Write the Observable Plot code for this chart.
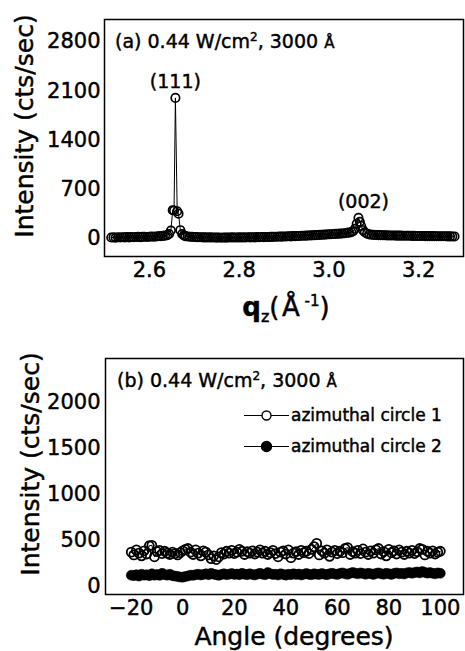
<!DOCTYPE html>
<html>
<head>
<meta charset="utf-8">
<script src="https://cdn.jsdelivr.net/npm/d3@7"></script>
<script src="https://cdn.jsdelivr.net/npm/@observablehq/plot@0.6"></script>
<style>
  html, body { margin: 0; padding: 0; background: #fff; }
  #fig { width: 465px; height: 651px; position: relative; }
  #fig svg { display: block; }
  #fig svg text { stroke: black; stroke-width: 0.45px; }
  .ov { position: absolute; font-family: "DejaVu Sans"; color: black; white-space: nowrap; -webkit-text-stroke: 0.45px black; }
  .ytitle { font-size: 25px; line-height: 25px; transform: translate(-50%, -50%) rotate(-90deg); }
  .xtitle { transform: translateX(-50%); }
  .note { font-size: 19px; line-height: 19px; }
  .shift { position: relative; }
  .frame { position: absolute; box-sizing: border-box; border: 1.5px solid black; pointer-events: none; }
  .tick { position: absolute; background: black; pointer-events: none; }
</style>
</head>
<body>
<div id="fig">
  <div class="ov ytitle" style="left:24px; top:126px;">Intensity (cts/sec)</div>
  <div class="ov xtitle" style="left:286px; top:294px; font-size:26px; line-height:26px;"><b>q</b><span class="shift" style="font-size:16px; top:6px;">z</span>(&#8202;Å<span class="shift" style="font-size:15px; top:-10px;"> -1</span>)</div>
  <div class="ov note" style="left:115px; top:32px;">(a) 0.44 W/cm<span class="shift" style="font-size:12px; top:-7px;">2</span>, 3000 <span style="font-size:15px;">Å</span></div>
  <div class="ov ytitle" style="left:30px; top:463.5px;">Intensity (cts/sec)</div>
  <div class="ov xtitle" style="left:294px; top:624px; font-size:25px; line-height:25px;">Angle (degrees)</div>
  <div class="ov note" style="left:117px; top:371px;">(b) 0.44 W/cm<span class="shift" style="font-size:12px; top:-7px;">2</span>, 3000 <span style="font-size:15px;">Å</span></div>
</div>
<script>
// ---- (a) q_z scan through the (111) and (002) reflections ----
const qz = [
  2.515, 2.520, 2.525, 2.530, 2.535, 2.540, 2.545, 2.550, 2.555, 2.560,
  2.565, 2.570, 2.575, 2.580, 2.585, 2.590, 2.595, 2.600, 2.605, 2.610,
  2.615, 2.620, 2.625, 2.630, 2.635, 2.640,
  2.644, 2.648, 2.652, 2.655, 2.658, 2.662, 2.665, 2.669, 2.673, 2.677,
  2.680, 2.685, 2.690, 2.695, 2.700, 2.705, 2.710, 2.715, 2.720, 2.725,
  2.730, 2.735, 2.740, 2.745, 2.750, 2.755, 2.760, 2.765, 2.770, 2.775,
  2.780, 2.785, 2.790, 2.795, 2.800, 2.805, 2.810, 2.815, 2.820, 2.825,
  2.830, 2.835, 2.840, 2.845, 2.850, 2.855, 2.860, 2.865, 2.870, 2.875,
  2.880, 2.885, 2.890, 2.895, 2.900, 2.905, 2.910, 2.915, 2.920, 2.925,
  2.930, 2.935, 2.940, 2.945, 2.950, 2.955, 2.960, 2.965, 2.970, 2.975,
  2.980, 2.985, 2.990, 2.995, 3.000, 3.005, 3.010, 3.015, 3.020, 3.025,
  3.030, 3.035, 3.040,
  3.045, 3.050, 3.054, 3.058, 3.062, 3.066, 3.069, 3.072, 3.076, 3.080,
  3.085, 3.090,
  3.095, 3.100, 3.105, 3.110, 3.115, 3.120, 3.125, 3.130, 3.135, 3.140,
  3.145, 3.150, 3.155, 3.160, 3.165, 3.170, 3.175, 3.180, 3.185, 3.190,
  3.195, 3.200, 3.205, 3.210, 3.215, 3.220, 3.225, 3.230, 3.235, 3.240,
  3.245, 3.250, 3.255, 3.260, 3.265, 3.270, 3.275, 3.280
];
const countsA = [
  10, 12, 8, 14, 11, 15, 13, 16, 12, 18,
  15, 17, 20, 16, 19, 22, 18, 21, 24, 22,
  26, 28, 30, 34, 38, 45,
  60, 110, 400, 395, 2000, 385, 350, 115, 60, 40,
  30, 25, 22, 20, 18, 16, 15, 14, 12, 13,
  11, 12, 10, 11, 9, 10, 8, 10, 9, 11,
  10, 12, 10, 11, 12, 10, 13, 11, 14, 12,
  15, 13, 16, 14, 17, 16, 18, 17, 20, 19,
  22, 21, 24, 23, 26, 25, 28, 27, 30, 30,
  32, 33, 35, 36, 38, 39, 41, 42, 44, 46,
  48, 50, 52, 54, 56, 58, 60, 62, 64, 66,
  68, 72, 76,
  80, 88, 100, 135, 205, 290, 235, 175, 115, 85,
  65, 55,
  50, 48, 47, 45, 44, 43, 42, 41, 40, 40,
  39, 38, 38, 37, 36, 36, 35, 35, 34, 34,
  33, 33, 32, 32, 31, 31, 30, 30, 30, 29,
  29, 28, 28, 28, 27, 27, 26, 26
];
const peakNames = ["(111)", "(002)"];
const peakQ = [2.658, 3.066];
const peakCounts = [2000, 290];
const peakDx = [0, 5];

const xTicksA = [2.6, 2.8, 3.0, 3.2];
const xMinorA = [2.7, 2.9, 3.1];
const yTicksA = [0, 700, 1400, 2100, 2800];
const yMinorA = [350, 1050, 1750, 2450];

// ---- (b) azimuthal scans ----
const angles = [
  -20, -19, -18, -17, -16, -15, -14, -13, -12, -11,
  -10, -9, -8, -7, -6, -5, -4, -3, -2, -1,
  0, 1, 2, 3, 4, 5, 6, 7, 8, 9,
  10, 11, 12, 13, 14, 15, 16, 17, 18, 19,
  20, 21, 22, 23, 24, 25, 26, 27, 28, 29,
  30, 31, 32, 33, 34, 35, 36, 37, 38, 39,
  40, 41, 42, 43, 44, 45, 46, 47, 48, 49,
  50, 51, 52, 53, 54, 55, 56, 57, 58, 59,
  60, 61, 62, 63, 64, 65, 66, 67, 68, 69,
  70, 71, 72, 73, 74, 75, 76, 77, 78, 79,
  80, 81, 82, 83, 84, 85, 86, 87, 88, 89,
  90, 91, 92, 93, 94, 95, 96, 97, 98, 99,
  100
];
const circle1 = [
  370, 340, 395, 360, 330, 385, 350, 440, 445, 320,
  375, 390, 355, 380, 360, 345, 370, 355, 340, 365,
  385, 400, 410, 370, 345, 395, 360, 330, 385, 370,
  340, 300, 330, 290, 320, 365, 350, 380, 360, 390,
  355, 370, 400, 380, 345, 375, 360, 385, 350, 370,
  395, 360, 380, 345, 365, 390, 355, 320, 370, 385,
  350, 395, 310, 360, 375, 345, 390, 365, 380, 355,
  400, 430, 465, 340, 385, 360, 395, 325, 370, 390,
  355, 380, 365, 410, 420, 345, 375, 360, 390, 355,
  405, 370, 345, 385, 360, 395, 410, 350, 375, 330,
  400, 365, 385, 350, 395, 370, 345, 380, 360, 390,
  355, 375, 410, 400, 340, 380, 360, 385, 350, 370,
  380
];
const circle2 = [
  120, 115, 125, 110, 130, 120, 125, 115, 135, 120,
  128, 118, 140, 125, 120, 130, 115, 110, 105, 100,
  98, 105, 112, 120, 118, 125, 130, 122, 128, 135,
  125, 140, 130, 125, 118, 128, 135, 125, 130, 138,
  128, 132, 125, 140, 130, 125, 135, 128, 122, 132,
  140, 130, 125, 148, 135, 128, 130, 122, 135, 128,
  120, 130, 125, 135, 128, 132, 122, 130, 138, 128,
  125, 135, 130, 128, 138, 130, 125, 135, 140, 132,
  128, 138, 145, 135, 130, 140, 150, 142, 135, 145,
  138, 130, 140, 135, 128, 138, 145, 135, 130, 140,
  135, 128, 138, 145, 135, 140, 132, 145, 150, 140,
  148, 155, 145, 160, 150, 142, 148, 140, 135, 145,
  140
];
const seriesNames = ["azimuthal circle 1", "azimuthal circle 2"];

const xTicksB = [-20, 0, 20, 40, 60, 80, 100];
const xMinorB = [-30, -10, 10, 30, 50, 70, 90];
const yTicksB = [0, 500, 1000, 1500, 2000];
const yMinorB = [250, 750, 1250, 1750, 2250];

const FONT = "DejaVu Sans";
const fig = document.getElementById("fig");

// box round the plotting area plus inward ticks on all four sides,
// placed from the plot's own x and y scales
function decorate(plot, xMajor, xMinor, yMajor, yMinor) {
  const sx = plot.scale("x"), sy = plot.scale("y");
  const [x0, x1] = sx.range, [y0, y1] = sy.range; // y0 bottom, y1 top
  const left = plot.offsetLeft, top = plot.offsetTop;
  const box = document.createElement("div");
  box.className = "frame";
  Object.assign(box.style, {
    left: (left + x0 - 0.25) + "px", top: (top + y1 - 0.25) + "px",
    width: (x1 - x0 + 1.5) + "px", height: (y0 - y1 + 1.5) + "px"
  });
  fig.append(box);
  const bar = (x, y, w, h) => {
    const d = document.createElement("div");
    d.className = "tick";
    Object.assign(d.style, {left: (left + x) + "px", top: (top + y) + "px", width: w + "px", height: h + "px"});
    fig.append(d);
  };
  for (const [vals, len] of [[xMajor, 6], [xMinor, 3]]) {
    for (const v of vals) {
      const x = sx.apply(v) - 0.1;
      bar(x, y0 - len + 0.5, 1.2, len);
      bar(x, y1 + 0.5, 1.2, len);
    }
  }
  for (const [vals, len] of [[yMajor, 6], [yMinor, 3]]) {
    for (const v of vals) {
      const y = sy.apply(v) - 0.1;
      bar(x0 + 0.5, y, len, 1.2);
      bar(x1 - len + 0.5, y, len, 1.2);
    }
  }
}

// ---- panel (a) ----
const scanA = qz.map((q, i) => ({q, counts: countsA[i]}));
const peaks = peakNames.map((name, i) => ({name, q: peakQ[i], counts: peakCounts[i], dx: peakDx[i]}));

const panelA = Plot.plot({
  width: 465, height: 320,
  marginLeft: 104, marginRight: 2, marginTop: 19, marginBottom: 64,
  x: {domain: [2.5, 3.3]},
  y: {domain: [-260, 3117]},
  style: {fontFamily: FONT, fontSize: "21px", color: "black", background: "white"},
  marks: [
    Plot.axisX(xTicksA, {tickSize: 0, tickPadding: 6, tickFormat: d3.format(".1f"), label: null}),
    Plot.axisY(yTicksA, {tickSize: 0, tickPadding: 4, tickFormat: d3.format("d"), label: null}),
    Plot.line(scanA, {x: "q", y: "counts", stroke: "black", strokeWidth: 1}),
    Plot.dot(scanA, {x: "q", y: "counts", r: 4.2, stroke: "black", strokeWidth: 1.7, fill: "none"}),
    Plot.text(peaks, {x: (d) => d.q + d.dx / 449, y: "counts", text: "name", dy: -16, fontSize: 19}),
    Plot.frame({stroke: "black", strokeWidth: 1.5})
  ]
});

// ---- panel (b) ----
const scanB1 = angles.map((a, i) => ({angle: a, counts: circle1[i]}));
const scanB2 = angles.map((a, i) => ({angle: a, counts: circle2[i]}));

const panelB = Plot.plot({
  width: 465, height: 331,
  marginLeft: 105, marginRight: 2, marginTop: 38, marginBottom: 57,
  x: {domain: [-30, 109]},
  y: {domain: [-90, 2475]},
  style: {fontFamily: FONT, fontSize: "21px", color: "black", background: "white"},
  marks: [
    Plot.axisX(xTicksB, {tickSize: 0, tickPadding: 6, tickFormat: d3.format("d"), label: null}),
    Plot.axisY(yTicksB, {tickSize: 0, tickPadding: 5, tickFormat: d3.format("d"), label: null}),
    Plot.line(scanB1, {x: "angle", y: "counts", stroke: "black", strokeWidth: 1}),
    Plot.dot(scanB1, {x: "angle", y: "counts", r: 4.5, stroke: "black", strokeWidth: 1.8, fill: "none"}),
    Plot.line(scanB2, {x: "angle", y: "counts", stroke: "black", strokeWidth: 1}),
    Plot.dot(scanB2, {x: "angle", y: "counts", r: 5, fill: "black", stroke: "black", strokeWidth: 0.5}),
    Plot.frame({stroke: "black", strokeWidth: 1.5})
  ]
});

// legend: line-and-symbol key for the two azimuthal scans
const legend = d3.select(panelB).append("g")
  .attr("font-family", FONT).attr("font-size", 17).attr("fill", "black")
  .attr("text-anchor", "start");
seriesNames.forEach((name, i) => {
  const y = 95.5 + i * 31;
  legend.append("line").attr("x1", 244).attr("x2", 289).attr("y1", y).attr("y2", y)
    .attr("stroke", "black").attr("stroke-width", 1);
  legend.append("circle").attr("cx", 266.5).attr("cy", y).attr("r", i === 0 ? 4.5 : 5)
    .attr("fill", i === 0 ? "white" : "black").attr("stroke", "black").attr("stroke-width", 1.4);
  legend.append("text").attr("x", 291).attr("y", y).attr("dy", "0.32em").text(name);
});

fig.insertBefore(panelB, fig.firstChild);
fig.insertBefore(panelA, panelB);
decorate(panelA, xTicksA, xMinorA, yTicksA, yMinorA);
decorate(panelB, xTicksB, xMinorB, yTicksB, yMinorB);
</script>
</body>
</html>
